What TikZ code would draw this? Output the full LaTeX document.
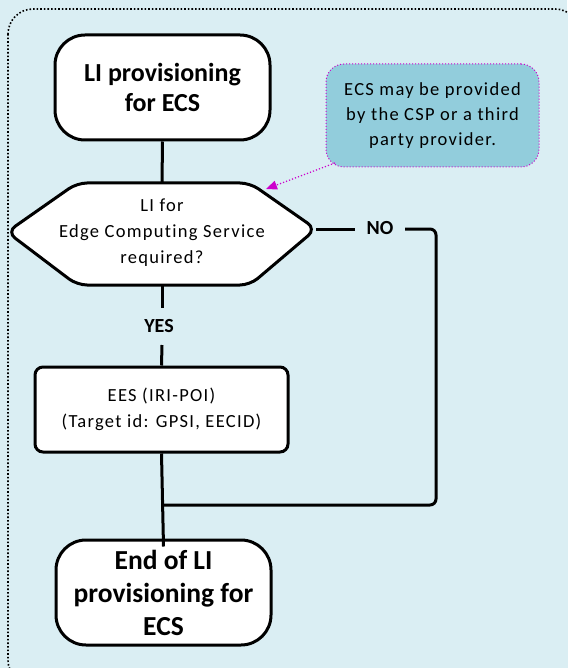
\documentclass[tikz,border=0pt]{standalone}
\usepackage{fontspec}
\setmainfont[Ligatures={NoCommon,NoRare}]{Carlito}
\newfontfamily\spaced[LetterSpace=7,Ligatures={NoCommon,NoRare}]{Carlito}
\usetikzlibrary{arrows.meta}
\definecolor{bgblue}{HTML}{DAEEF3}
\definecolor{noteblue}{HTML}{92CDDC}
\definecolor{magentaline}{HTML}{CC00CC}
\tikzset{
  terminal/.style={draw=black, line width=3pt, fill=white, rounded corners=30pt, align=center,
    font=\fontsize{26}{30}\selectfont\bfseries, inner sep=0pt},
  procbox/.style={draw=black, line width=3pt, fill=white, rounded corners=8pt, align=center,
    font=\spaced\fontsize{18.5}{26}\selectfont, inner sep=0pt},
  notebox/.style={draw=magentaline, dotted, line width=1pt, fill=noteblue, rounded corners=18pt, align=center,
    font=\spaced\fontsize{18.5}{25}\selectfont, inner sep=0pt},
  flow/.style={line width=3pt, draw=black},
  lbl/.style={font=\fontsize{20}{22}\selectfont\bfseries, inner sep=0pt},
  hexline/.style={line width=3pt, draw=black, fill=white},
}
\begin{document}
\begin{tikzpicture}[x=1pt, y=-1pt]
\useasboundingbox (0,0) rectangle (567,668);
% background panel
\fill[bgblue] (0,0) rectangle (567,668);
\draw[dotted, line width=1.6pt, draw=black, fill=bgblue, rounded corners=25pt] (8,9) rectangle (580,685);

% start
\node[terminal, minimum width=215pt, minimum height=105pt] (start) at (162.5,87.5) {LI provisioning\\for ECS};

% decision hexagon
\coordinate (hl) at (7,232);
\coordinate (htl) at (77,183);
\coordinate (htr) at (250,183);
\coordinate (hr) at (316,229);
\coordinate (hbr) at (250,285);
\coordinate (hbl) at (77,285);
\coordinate (hexTop) at (162,183);
\coordinate (hexBot) at (162,285);
\draw[hexline, rounded corners=10pt] (hl) -- (htl) -- (htr) -- (hr) -- (hbr) -- (hbl) -- cycle;
\node[align=center, font=\spaced\fontsize{18.5}{26}\selectfont, inner sep=0pt] (dec) at (162,233) {LI for\\Edge Computing Service\\required?};

% EES box
\node[procbox, minimum width=253pt, minimum height=85pt] (ees) at (161.5,409.5) {EES (IRI-POI)\\(Target id: GPSI, EECID)};

% end
\node[terminal, minimum width=215pt, minimum height=105pt, font=\fontsize{27.5}{33}\selectfont\bfseries] (stop) at (163.5,592.5) {End of LI\\provisioning for\\ECS};

% note
\node[notebox, minimum width=213pt, minimum height=103pt] (note) at (432.5,115.5) {ECS may be provided\\by the CSP or a third\\party provider.};
\coordinate (noteTail) at (335,163);
\coordinate (noteHead) at (266,189);
\draw[magentaline, dotted, line width=1.2pt, -{Triangle[length=11pt, width=9pt]}] (noteTail) -- (noteHead);

% labels
\node[lbl] (yes) at (159,326) {YES};
\node[lbl] (no) at (380,228) {NO};

% connectors
\coordinate (yesTop) at (162,308);
\coordinate (yesBot) at (162,345);
\coordinate (noL) at (355,229);
\coordinate (noR) at (405,229);
\coordinate (noCorner) at (436,229);
\coordinate (noEnd) at (436,505);
\coordinate (join) at (162,505);
\draw[flow] (start.south) -- (hexTop);
\draw[flow] (hexBot) -- (yesTop);
\draw[flow] (yesBot) -- (ees.north);
\draw[flow] (ees.south) -- ([yshift=-8pt]stop.north);
\draw[flow] (hr) -- (noL);
\draw[flow, rounded corners=6pt] (noR) -- (noCorner) -- (noEnd) -- (join);
\end{tikzpicture}
\end{document}
